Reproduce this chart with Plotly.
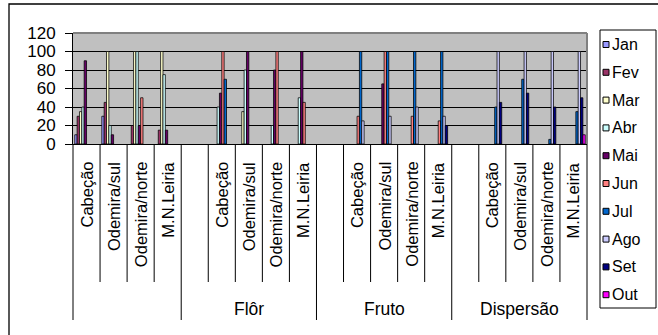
import plotly.graph_objects as go

# --- data -------------------------------------------------------------
sites = ["Cabeção", "Odemira/sul", "Odemira/norte", "M.N.Leiria"]
groups = ["", "Flôr", "Fruto", "Dispersão"]

# category slots: group 1 has 4 sites, each later group starts with an empty slot
categories = (
    sites
    + [""] + sites
    + [""] + sites
    + [""] + sites
)

months = ["Jan", "Fev", "Mar", "Abr", "Mai", "Jun", "Jul", "Ago", "Set", "Out"]
colors = ["#9999FF", "#993366", "#FFFFCC", "#CCFFFF", "#660066",
          "#FF8080", "#0066CC", "#CCCCFF", "#000080", "#FF00FF"]

N = None
jan = [10, 30, N, N, N, N, N, N, N, N, N, N, N, N, N, N, N, N, N]
fev = [30, 45, 20, 15, N, N, N, N, N, N, N, N, N, N, N, N, N, N, N]
mar = [35, 100, 100, 100, N, N, 35, N, N, N, N, N, N, N, N, N, N, N, N]
abr = [40, 20, 100, 75, N, 40, 80, 20, 50, N, N, N, N, N, N, N, N, N, N]
mai = [90, 10, 20, 15, N, 55, 100, 80, 100, N, N, 65, N, N, N, N, N, N, N]
jun = [N, N, 50, N, N, 100, N, 100, 45, N, 30, 100, 30, 25, N, N, N, N, N]
jul = [N, N, N, N, N, 70, N, N, N, N, 100, 100, 100, 100, N, 40, 70, 5, 35]
ago = [N, N, N, N, N, N, N, N, N, N, 25, 30, 40, 30, N, 100, 100, 100, 100]
set_ = [N, N, N, N, N, N, N, N, N, N, N, N, N, 20, N, 45, 55, 40, 50]
out = [N, N, N, N, N, N, N, N, N, N, N, N, N, N, N, N, N, N, 10]
series = [jan, fev, mar, abr, mai, jun, jul, ago, set_, out]

y_ticks = [0, 20, 40, 60, 80, 100, 120]

# --- geometry helpers (pixel -> paper) ---------------------------------
W, H = 658, 335
ML, MR, MT, MB = 73, 71, 33, 191
PW, PH = W - ML - MR, H - MT - MB


def px_x(px):
    return (px - ML) / PW


def px_y(py):
    return (H - MB - py) / PH


FONT = "Liberation Sans, Arial, sans-serif"
ncat = len(categories)
xs = list(range(ncat))

fig = go.Figure()
for name, col, vals in zip(months, colors, series):
    fig.add_trace(go.Bar(
        x=xs, y=vals, name=name, showlegend=False,
        marker=dict(color=col, line=dict(color="#000000", width=0.75)),
    ))

shapes = []
annotations = []

# category-axis ticks: short between sites, long at group boundaries
group_edges = {0, 4, 9, 14, 19}
for k in range(ncat + 1):
    y_end = 320 if k in group_edges else 282
    shapes.append(dict(type="line", xref="paper", yref="paper",
                       x0=k / ncat, x1=k / ncat, y0=0, y1=px_y(y_end),
                       line=dict(color="#000000", width=1)))

# site labels (rotated)
for i, lab in enumerate(categories):
    if lab:
        annotations.append(dict(
            x=i, xref="x", y=px_y(160), yref="paper",
            text=lab, textangle=-90, showarrow=False,
            xanchor="center", yanchor="top",
            font=dict(family=FONT, size=16.5, color="#000000")))

# group labels
group_centers = [1.5, 6, 11, 16]
for g, c in zip(groups, group_centers):
    if g:
        annotations.append(dict(
            x=c, xref="x", y=px_y(309), yref="paper",
            text=g, showarrow=False, xanchor="center", yanchor="middle",
            font=dict(family=FONT, size=17.5, color="#000000")))

# plot-area border (top and right, grey)
shapes.append(dict(type="line", xref="paper", yref="paper", x0=0, x1=1, y0=1, y1=1,
                   line=dict(color="#808080", width=2)))
shapes.append(dict(type="line", xref="paper", yref="paper", x0=1, x1=1, y0=0, y1=1,
                   line=dict(color="#808080", width=2)))

# chart-area frame
shapes.append(dict(type="rect", xref="paper", yref="paper",
                   x0=px_x(9), x1=px_x(663), y0=px_y(4), y1=px_y(345),
                   line=dict(color="#000000", width=1.3)))

# legend box, swatches and labels
leg_left, leg_right, leg_top, leg_bottom = 600, 656, 30, 308
shapes.append(dict(type="rect", xref="paper", yref="paper",
                   x0=px_x(leg_left), x1=px_x(leg_right),
                   y0=px_y(leg_top), y1=px_y(leg_bottom),
                   line=dict(color="#000000", width=1), fillcolor="#FFFFFF",
                   layer="below"))
for i, (name, col) in enumerate(zip(months, colors)):
    cy = 44.5 + i * 27.8
    shapes.append(dict(type="rect", xref="paper", yref="paper",
                       x0=px_x(603), x1=px_x(609), y0=px_y(cy - 3), y1=px_y(cy + 3),
                       line=dict(color="#000000", width=1), fillcolor=col))
    annotations.append(dict(
        x=px_x(610), xref="paper", y=px_y(cy), yref="paper",
        text=name, showarrow=False, xanchor="left", yanchor="middle",
        font=dict(family=FONT, size=16, color="#000000")))

fig.update_layout(
    width=W, height=H,
    margin=dict(l=ML, r=MR, t=MT, b=MB, pad=0),
    paper_bgcolor="#FFFFFF",
    plot_bgcolor="#C0C0C0",
    barmode="group",
    bargap=0.13,
    bargroupgap=0,
    showlegend=False,
    shapes=shapes,
    annotations=annotations,
    font=dict(family=FONT, size=17, color="#000000"),
)
fig.update_xaxes(
    range=[-0.5, ncat - 0.5], showticklabels=False, ticks="",
    showgrid=False, zeroline=False,
    showline=True, linecolor="#000000", linewidth=1,
)
fig.update_yaxes(
    range=[0, 120], tickvals=y_ticks, ticktext=[str(v) for v in y_ticks],
    ticks="outside", ticklen=7, tickcolor="#000000", tickwidth=1,
    ticklabelstandoff=6,
    showgrid=True, gridcolor="#000000", gridwidth=1,
    zeroline=False, showline=True, linecolor="#000000", linewidth=1,
    tickfont=dict(family=FONT, size=17, color="#000000"),
)

fig.write_html("out.html")
